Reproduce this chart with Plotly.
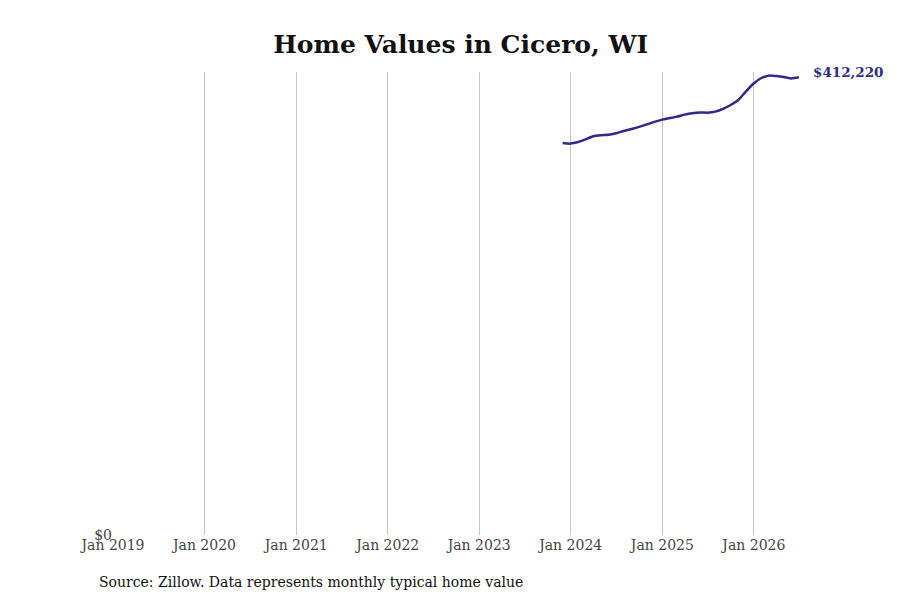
"""Home value trend chart for Cicero, WI (Plotly)."""

import plotly.graph_objects as go

# Chart data (Zillow month-end dates)
MONTHS = [
    "2023-11-30", "2023-12-31",
    "2024-01-31", "2024-02-29", "2024-03-31", "2024-04-30", "2024-05-31", "2024-06-30",
    "2024-07-31", "2024-08-31", "2024-09-30", "2024-10-31", "2024-11-30", "2024-12-31",
    "2025-01-31", "2025-02-28", "2025-03-31", "2025-04-30", "2025-05-31", "2025-06-30",
    "2025-07-31", "2025-08-31", "2025-09-30", "2025-10-31", "2025-11-30", "2025-12-31",
    "2026-01-31", "2026-02-28", "2026-03-31", "2026-04-30", "2026-05-31", "2026-06-30",
]
HOME_VALUES = [
    353000, 352500,
    353900, 356300, 359200, 360100, 360500, 361900,
    363900, 365700, 367600, 369800, 372100, 374100,
    375500, 376800, 378600, 379900, 380600, 380400,
    381300, 383700, 387300, 391800, 399400, 406600,
    411600, 413700, 413300, 412500, 411200, 412220,
]
X_START = "2019-01-01"
TICK_DATES = ["2019-01-01", "2020-01-01", "2021-01-01", "2022-01-01",
              "2023-01-01", "2024-01-01", "2025-01-01", "2026-01-01"]
TICK_LABELS = ["Jan 2019", "Jan 2020", "Jan 2021", "Jan 2022",
               "Jan 2023", "Jan 2024", "Jan 2025", "Jan 2026"]

TITLE = "Home Values in Cicero, WI"
SOURCE = "Source: Zillow. Data represents monthly typical home value"

# Styles
LINE_COLOR = "#2e2a8a"
GRID_COLOR = "#c4c4c4"
FONT = "DejaVu Serif"

fig = go.Figure()
fig.add_trace(
    go.Scatter(
        x=MONTHS,
        y=HOME_VALUES,
        mode="lines",
        line=dict(color=LINE_COLOR, width=2.5, shape="spline", smoothing=0.6),
        hoverinfo="skip",
        showlegend=False,
    )
)

# Last value label
fig.add_annotation(
    x=MONTHS[-1],
    y=HOME_VALUES[-1],
    text=f"<b>${HOME_VALUES[-1]:,}</b>",
    showarrow=False,
    xanchor="left",
    yanchor="middle",
    xshift=12,
    yshift=5,
    font=dict(family=FONT, size=13.5, color=LINE_COLOR),
)

fig.add_annotation(
    x=0, xref="paper", xanchor="left", xshift=-16,
    y=0, yref="paper", yanchor="top", yshift=-37,
    text=SOURCE,
    showarrow=False,
    font=dict(family=FONT, size=14, color="#111111"),
)

fig.update_xaxes(
    range=[X_START, MONTHS[-1]],
    tickvals=TICK_DATES,
    ticktext=TICK_LABELS,
    showgrid=True,
    gridcolor=GRID_COLOR,
    gridwidth=1,
    zeroline=False,
    showline=False,
    ticks="",
    tickfont=dict(family=FONT, size=14, color="#444444"),
)
fig.update_yaxes(
    range=[0, 417000],
    tickvals=[0],
    ticktext=["$0"],
    showgrid=False,
    zeroline=False,
    showline=False,
    ticks="",
    tickfont=dict(family=FONT, size=14, color="#444444"),
)

fig.update_layout(
    width=900,
    height=600,
    title=dict(
        text=f"<b>{TITLE}</b>",
        x=0.503,
        xanchor="center",
        y=0.94,
        yanchor="middle",
        font=dict(family=FONT, size=25, color="#111111"),
    ),
    font=dict(family=FONT),
    plot_bgcolor="white",
    paper_bgcolor="white",
    margin=dict(l=105, r=109, t=64, b=73),
)

fig.write_html("out.html")
